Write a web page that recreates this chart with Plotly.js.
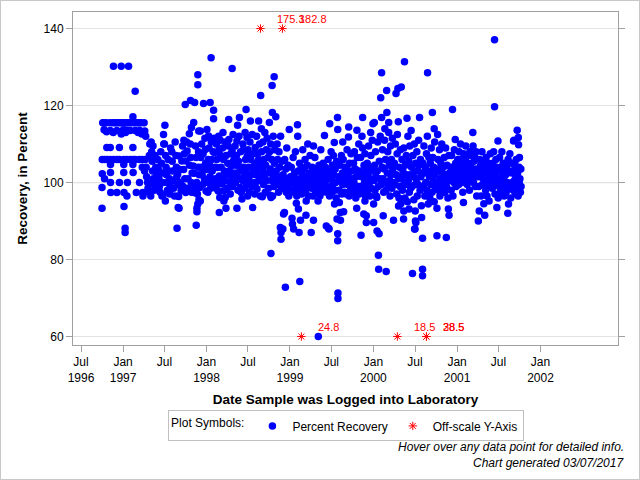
<!DOCTYPE html>
<html><head><meta charset="utf-8">
<script src="https://cdn.plot.ly/plotly-3.0.1.min.js"></script>
<style>html,body{margin:0;padding:0;background:#fff}#chart{width:638px;height:478px;border:1px solid #c8c8c8}</style>
</head><body><div id="chart"></div>
<script>
// ---- data: [month-day, percent recovery] per year ----
const obs1996 = [
["10-01",93.3],["10-01",98.7],["10-02",102.3],["10-02",106],["10-04",115.5],["10-09",115.5],["10-10",113.7],["10-12",106],["10-12",101],["10-20",115.5],["10-21",113.2],["10-22",109.1],["10-23",106],
["11-05",115.5],["11-06",113.5],["11-06",109.1],["11-06",106],["11-07",104.7],["11-07",102.6],["11-07",100],["11-08",97.4],["11-20",130.2],["11-18",115.5],["11-19",113],["11-20",106],["11-27",115.5],
["12-05",115.5],["12-05",113.5],["12-05",106],["12-05",97.4],["12-16",115.5],["12-16",109.1],["12-16",106],["12-16",100],["12-24",130.2],["12-24",115.5],["12-24",112.6]
];
const obs1997 = [
["01-03",115.5],["01-03",113.7],["01-04",106],["01-04",104.7],["01-04",102.6],["01-05",97.4],["01-05",93.8],["01-10",88.1],["01-10",87.0],["01-11",115.5],["01-12",113],["01-17",115.5],["01-17",113.5],["01-18",106],["01-18",96.5],["01-20",100],["01-25",130.2],["01-25",115.5],
["02-01",115.5],["02-01",113.5],["02-02",106],["02-13",117.1],["02-13",115.5],["02-13",109.1],["02-13",104.7],["02-14",102.6],["02-14",106],["02-23",123.7],["02-23",115.5],["02-23",113.5],["02-24",106],["02-28",97.4],
["03-05",115.5],["03-08",113],["03-12",115.5],["03-14",106],["03-14",100],["03-15",113.5],["03-20",115.5],["03-24",112.6],["03-26",106],["03-26",104],["03-28",97.4],["03-29",96.5],
["04-03",115.5],["04-06",113.4],["04-10",112],["04-08",106],["04-12",104],["04-05",103],["04-14",101.5],["04-18",100],["04-20",98.5],["04-24",97.4],["04-28",110],["04-26",107],
["05-02",96.5],["05-04",110.5],["05-06",108],["05-08",105.5],["05-10",103],["05-13",101],["05-15",99.5],["05-18",98],["05-21",107],["05-24",104],["05-27",102],["05-29",100.5],["05-12",109.5],
["06-02",106],["06-04",103.5],["06-07",101],["06-09",99],["06-12",97.5],["06-15",108],["06-18",105],["06-21",102.5],["06-24",100],["06-27",112.5],["06-28",110],["06-20",96.5],["06-24",96.7],
["07-03",114.9],["07-01",110],["07-05",95.2],["07-06",107],["07-08",104],["07-10",102],["07-12",100],["07-14",98],["07-17",106],["07-20",103],["07-23",101],["07-26",99],["07-28",109],["07-24",97],
["08-02",108],["08-04",105.5],["08-06",103],["08-08",100.5],["08-10",98.5],["08-14",96.5],["08-17",110.5],["08-20",107],["08-22",104],["08-24",101.5],["08-27",99.5],["08-28",102.2],["08-29",96.5],["08-25",88.1],["08-30",93.5],
["09-01",96.4],["09-04",106.9],["09-03",93.3],["09-18",109.5],["09-07",103.4],["09-09",100],["09-12",98],["09-15",105.6],["09-23",103.4],["09-21",99],["09-24",111],["09-26",107.5],["09-28",101],["09-30",120.3],["09-29",97.8],
["10-02",97.4],["10-03",105.6],["10-06",110.5],["10-08",108.2],["10-18",112.7],["10-12",101],["10-14",98.5],["10-23",121.3],["10-19",104.5],["10-22",110],["10-24",106.5],["10-26",100],["10-28",97.5],["10-30",102.5],["10-27",114.3],
["11-04",104.3],["11-06",115.6],["11-06",97.4],["11-08",102.4],["11-10",120.8],["11-12",98.7],["11-14",109.5],["11-16",106.5],["11-17",88.9],["11-19",100],["11-20",92.4],["11-20",93.3],["11-22",97],["11-24",94.4],["11-24",128],["11-24",125.4],["11-26",104],["11-27",108],["11-28",113.4],["11-29",95.5],["11-30",102],
["12-02",98.7],["12-05",95.2],["12-05",113.4],["12-07",106.5],["12-09",104],["12-11",110],["12-13",102],["12-15",99.5],["12-17",107.5],["12-19",120.5],["12-21",103.4],["12-23",100.9],["12-25",111.5],["12-27",108.6],["12-28",105],["12-30",97.8]
];
const obs1998 = [
["01-03",113.8],["01-03",103.4],["01-05",100],["01-07",97.5],["01-09",106],["01-10",112.1],["01-12",109],["01-14",104.5],["01-16",101.5],["01-17",120.8],["01-19",98.5],["01-21",132.4],["01-22",110.5],["01-24",106],["01-26",103],["01-28",100],["01-30",108],
["02-01",118.8],["02-01",116.6],["02-03",111.5],["02-05",107.8],["02-07",104],["02-09",101],["02-11",98.5],["02-13",110],["02-15",106],["02-17",103.9],["02-19",99.6],["02-21",97.8],["02-23",112],["02-25",108.6],["02-26",92.2],["02-26",101.7],["02-28",96.1],
["03-02",111],["03-04",107],["03-06",104],["03-08",101],["03-10",99.6],["03-12",109],["03-14",113],["03-16",106],["03-17",97.8],["03-18",95.2],["03-20",103],["03-22",100.5],["03-24",96.1],["03-25",110.5],["03-27",93.3],["03-28",107],["03-30",102],
["04-02",98.5],["04-04",105],["04-06",109.5],["04-08",116.4],["04-09",111.2],["04-11",103],["04-13",100],["04-15",97],["04-17",107.5],["04-19",104.3],["04-21",101.5],["04-23",129.6],["04-23",108.2],["04-25",99],["04-27",112.5],["04-29",105.5],
["05-02",106],["05-04",102.5],["05-06",109.5],["05-08",100],["05-10",104.5],["05-12",107],["05-14",93.3],["05-14",110.8],["05-16",101.5],["05-17",114.9],["05-19",98],["05-21",105.5],["05-23",112],["05-25",116.9],["05-27",103],["05-29",98.7],["05-30",108],
["06-02",97.4],["06-04",103.9],["06-05",95.7],["06-07",100.5],["06-09",110],["06-12",108.6],["06-13",104],["06-15",101.5],["06-17",98.5],["06-19",113],["06-21",106],["06-23",119],["06-24",102.5],["06-26",99.5],["06-27",111.7],["06-28",106.9],["06-30",96.5],
["07-02",108.5],["07-04",104],["07-06",100.5],["07-08",97.5],["07-10",110.5],["07-12",116],["07-14",106],["07-16",102],["07-18",99],["07-20",112.5],["07-22",93.5],["07-24",107.5],["07-26",103],["07-27",104.3],["07-29",100],["07-31",97],
["08-02",109.1],["08-02",99.6],["08-04",105],["08-06",102],["08-08",112],["08-10",98.3],["08-12",107.5],["08-14",103.5],["08-17",116],["08-17",106],["08-19",100.5],["08-21",110],["08-23",104.5],["08-25",96.5],["08-26",122.6],["08-28",101.5],["08-29",114],["08-30",108],
["09-02",96.3],["09-03",103],["09-05",110.5],["09-07",99.5],["09-09",106],["09-11",101.5],["09-13",113],["09-15",97.5],["09-17",104.5],["09-19",108.5],["09-21",100.5],["09-23",111.5],["09-25",102.5],["09-27",106.5],["09-29",98.5],
["10-03",115.6],["10-04",108],["10-06",96.7],["10-07",103.5],["10-09",110],["10-10",96.1],["10-10",81.6],["10-12",100.5],["10-14",106],["10-15",125.2],["10-16",118.2],["10-17",96.5],["10-18",102],["10-20",112],["10-22",99],["10-24",127.5],["10-25",105],["10-27",108.5],["10-29",101],["10-31",117.1],
["11-02",103],["11-04",99.5],["11-06",110],["11-08",106],["11-10",101.5],["11-12",97.5],["11-14",108],["11-16",104],["11-18",100],["11-20",88.3],["11-21",112],["11-23",87],["11-23",85.3],["11-25",98.5],["11-27",105.5],["11-29",101],
["12-01",87.9],["12-02",102],["12-04",91.8],["12-06",98.5],["12-08",92.2],["12-09",106],["12-11",100],["12-12",72.8],["12-14",103.5],["12-16",97.5],["12-18",109],["12-20",101],["12-22",99],["12-24",104.5],["12-27",96.5],["12-29",113.8],["12-30",100.5]
];
const obs1999 = [
["01-03",101.5],["01-05",98],["01-07",104],["01-10",90.7],["01-12",89.2],["01-13",100],["01-15",106.5],["01-17",87.9],["01-19",97.5],["01-21",102.5],["01-23",99],["01-25",108],["01-27",101],["01-29",94.6],["01-31",96.5],
["02-02",100.5],["02-03",115],["02-04",112],["02-06",103],["02-07",93.1],["02-09",98],["02-10",87],["02-12",105],["02-13",74.3],["02-15",101],["02-16",90.2],["02-18",99],["02-20",104],["02-22",97],["02-24",102],["02-26",108.5],
["03-02",99.5],["03-04",103.5],["03-06",100],["03-08",106],["03-10",97.5],["03-12",91.5],["03-14",101.5],["03-16",98.5],["03-18",104.5],["03-20",110],["03-22",100],["03-24",96.5],["03-26",102.5],["03-28",99.5],["03-30",107],["03-13",95.2],
["04-02",101],["04-04",87],["04-06",98.5],["04-08",104],["04-10",100],["04-12",96.5],["04-14",90.2],["04-16",102.5],["04-18",99],["04-20",106.5],["04-22",101],["04-24",97.5],["04-26",103.5],["04-28",99.5],["04-14",109.5],
["05-02",102],["05-05",60],["05-06",98],["05-08",104.5],["05-10",100.5],["05-12",96.5],["05-14",101.5],["05-16",108.5],["05-18",99.5],["05-20",103],["05-22",97.5],["05-24",100.5],["05-26",105],["05-28",98.5],["05-30",102],["05-04",95.2],
["06-01",112.2],["06-03",99.5],["06-05",104],["06-07",100.5],["06-09",88.7],["06-11",97.5],["06-13",102.5],["06-15",98.5],["06-17",106],["06-19",88.1],["06-21",101],["06-23",96.5],["06-24",115.3],["06-26",103],["06-28",99],["06-30",108],["06-21",87.9],
["07-02",101],["07-04",97.5],["07-06",104.5],["07-08",99.5],["07-10",107],["07-12",102],["07-14",110.4],["07-16",98],["07-18",103.5],["07-20",100],["07-22",96],["07-24",105.5],["07-26",90.5],["07-28",116.9],["07-29",113.8],["07-29",86.7],["07-29",84.9],["07-30",71.3],["07-30",69.9],["07-15",94.4],
["08-02",101.5],["08-04",98],["08-05",94.8],["08-07",104.5],["08-09",92.2],["08-10",90.2],["08-12",100.5],["08-14",107],["08-16",97],["08-18",102.5],["08-20",99.5],["08-22",106],["08-24",92.4],["08-26",101],["08-28",97.5],["08-30",104],["08-20",110.5],
["09-02",100],["09-04",97],["09-06",103.5],["09-08",108.5],["09-10",99.5],["09-12",102],["09-14",111.8],["09-15",114.4],["09-17",96.5],["09-19",105],["09-21",100.5],["09-23",98],["09-25",107.5],["09-27",103],["09-29",99],
["10-02",101],["10-04",97.5],["10-06",105],["10-08",100],["10-10",108],["10-12",98],["10-14",103.5],["10-16",96],["10-18",101.5],["10-20",93.3],["10-21",113.6],["10-23",106.5],["10-25",99],["10-27",102.5],["10-29",110],["10-31",97],
["11-02",103],["11-04",99],["11-06",106.5],["11-08",86.3],["11-10",101.5],["11-12",97.5],["11-14",109],["11-15",116.9],["11-17",102],["11-19",98.5],["11-21",104.5],["11-23",100],["11-25",107.5],["11-27",96.5],["11-29",103],["11-20",91.8],["11-25",95.2],["11-12",112],
["12-01",91.4],["12-01",89.6],["12-03",101],["12-05",105],["12-07",98],["12-09",102.5],["12-11",109.5],["12-13",99.5],["12-15",104],["12-17",96.5],["12-19",101],["12-21",107],["12-23",98.5],["12-25",103],["12-27",111],["12-30",115.3],["12-20",113]
];
const obs2000 = [
["01-02",89.6],["01-04",100.5],["01-06",104.5],["01-08",98],["01-10",108],["01-12",101.5],["01-14",96.5],["01-17",87.4],["01-18",103],["01-20",110.5],["01-22",99],["01-23",81.1],["01-24",77.5],["01-26",86.7],["01-27",105.5],["01-29",101],["01-31",112],["01-02",94.4],["01-16",96.1],["01-05",115.6],
["02-02",122],["02-04",99.5],["02-06",116.9],["02-06",128.5],["02-08",104],["02-10",108.5],["02-12",101],["02-13",91.4],["02-15",97.5],["02-17",103.5],["02-19",111],["02-21",100],["02-23",106],["02-25",98],["02-26",76.9],["02-28",123.9],["02-29",118.2],["02-20",114],
["03-02",102.5],["03-04",108],["03-06",99],["03-08",113],["03-10",104.5],["03-12",100.5],["03-14",96.5],["03-16",109.5],["03-18",102],["03-20",106],["03-22",98.5],["03-24",111.5],["03-26",103.5],["03-29",90.2],["03-30",100],["03-08",115.6],
["04-02",105],["04-04",99.5],["04-06",110],["04-09",123.1],["04-10",102],["04-12",97],["04-14",107.5],["04-17",124.4],["04-19",115.8],["04-20",101],["04-22",96],["04-24",104],["04-26",99],["04-28",108.5],["04-30",94.5],["04-20",93.9],["04-15",112.5],
["05-02",124.8],["05-03",101.5],["05-05",106],["05-07",98],["05-09",103],["05-12",90.5],["05-13",109],["05-15",100],["05-16",131.4],["05-18",96],["05-20",104.5],["05-22",99.5],["05-24",107],["05-26",102],["05-27",116.7],["05-29",95],["05-31",112],["05-13",92.6],
["06-02",100.5],["06-04",105.5],["06-06",97.5],["06-08",109.5],["06-10",102],["06-12",98.5],["06-14",113.5],["06-16",104],["06-18",99],["06-20",76.4],["06-22",107],["06-24",101.5],["06-26",95.5],["06-28",110],["06-29",87.9],["06-30",103],["06-05",93.1],
["07-02",99.5],["07-04",105],["07-05",89.6],["07-07",101],["07-09",108],["07-11",96.5],["07-13",103],["07-15",99.5],["07-17",111],["07-19",104.5],["07-21",116.9],["07-23",98],["07-25",106],["07-27",101.5],["07-29",94],["07-31",102.5],["07-01",87.9],["07-02",92.6],["07-03",90],["07-30",90.9],
["08-03",77.5],["08-03",75.8],["08-03",85.5],["08-05",105],["08-07",99],["08-09",109.5],["08-11",102.5],["08-13",96.5],["08-15",104],["08-17",100],["08-20",107.5],["08-22",98],["08-24",112],["08-25",128.5],["08-27",103],["08-29",97],["08-31",106.5],["08-28",94.4],
["09-02",101.5],["09-04",96],["09-06",105],["09-08",99.5],["09-10",109],["09-12",103],["09-14",97.5],["09-15",118.2],["09-17",106.5],["09-19",100.5],["09-21",104],["09-23",95],["09-25",110.5],["09-27",102],["09-29",98.5],["09-23",114],
["10-02",103],["10-05",86.2],["10-05",93.3],["10-07",100],["10-08",112.5],["10-10",106],["10-12",98],["10-14",103.5],["10-16",108.5],["10-18",96.5],["10-20",101],["10-22",105],["10-24",99],["10-26",110],["10-28",102.5],["10-30",97.5],
["11-02",104],["11-04",100],["11-06",106.5],["11-08",97.5],["11-10",102],["11-12",109],["11-15",85.7],["11-16",99],["11-18",104.5],["11-20",101],["11-22",96],["11-24",93.1],["11-26",107],["11-27",91.5],["11-29",102.5],
["12-02",100.5],["12-04",104],["12-06",98],["12-08",107],["12-10",102],["12-12",119],["12-14",96.5],["12-16",103.5],["12-18",100],["12-20",108.5],["12-22",101.5],["12-24",111.2],["12-26",105],["12-28",99],["12-30",103]
];
const obs2001 = [
["01-02",101],["01-04",106],["01-06",103],["01-08",99.5],["01-10",108],["01-12",104],["01-14",101.5],["01-16",110],["01-18",102.5],["01-20",106],["01-22",100],["01-24",104.5],["01-26",97.5],["01-29",94.8],["01-30",107.5],
["02-02",103],["02-04",100.5],["02-06",106],["02-08",109.5],["02-10",102],["02-12",104.5],["02-14",99.5],["02-16",107],["02-18",101],["02-20",105],["02-22",103],["02-24",98],["02-26",108],["02-28",102.5],
["03-02",104],["03-04",101],["03-06",107],["03-08",103],["03-11",113],["03-12",109.5],["03-14",100],["03-16",105.5],["03-18",102],["03-20",106.5],["03-22",99],["03-24",103.5],["03-26",108],["03-28",96.5],["03-30",101.5],
["04-02",103],["04-04",90],["04-06",99],["04-08",92.6],["04-10",106],["04-12",101.5],["04-14",104.5],["04-16",96.5],["04-18",102],["04-20",108],["04-22",99.5],["04-24",105],["04-26",101],["04-28",94.5],["04-30",103.5],
["05-02",91.5],["05-03",100.5],["05-04",104],["05-06",98],["05-08",106.5],["05-10",101.5],["05-12",96.5],["05-14",103],["05-16",99.5],["05-18",105],["05-20",101],["05-21",95.2],["05-24",102.5],["05-26",107.5],["05-28",99],["05-30",103.5],
["06-02",102],["06-04",98.5],["06-06",105],["06-08",100.5],["06-10",108],["06-12",103],["06-14",137.1],["06-14",119.7],["06-16",97],["06-18",101.5],["06-20",106],["06-22",99.5],["06-24",93.5],["06-26",100.5],["06-29",110.8],["06-30",96],["06-24",104],
["07-02",103],["07-04",99],["07-06",106.5],["07-08",101],["07-10",97.5],["07-12",104],["07-14",100.5],["07-16",108],["07-18",102.5],["07-20",98],["07-22",105],["07-24",101],["07-26",96.5],["07-28",103.5],["07-30",99.5],
["08-02",102],["08-04",97.5],["08-06",104.5],["08-08",100],["08-11",92],["08-12",106],["08-14",94.4],["08-16",98.5],["08-18",103],["08-20",107.5],["08-22",99.5],["08-24",96],["08-26",102.5],["08-28",105],["08-30",100],
["09-02",103],["09-04",98],["09-05",110.8],["09-07",111],["09-09",100.5],["09-11",104.5],["09-13",97],["09-15",101.5],["09-17",106],["09-19",99],["09-21",113.6],["09-23",102.5],["09-25",96.5],["09-26",111.7],["09-27",109.8],["09-29",104],["09-30",100],
["10-01",106.5],["10-03",101],["10-05",97.5],["10-07",103.5],["10-08",99]
];
// off-scale results (actual values), drawn at the axis limit
const offDates  = ["1998-08-25","1998-11-29","1999-02-20","2000-04-15","2000-08-20","2000-08-20"];
const offValues = [175.3, 182.8, 24.8, 18.5, 28.5, 38.5];
const yTicks = [60, 80, 100, 120, 140];
const xTickDates = ["1996-07-01","1997-01-01","1997-07-01","1998-01-01","1998-07-01","1999-01-01",
                    "1999-07-01","2000-01-01","2000-07-01","2001-01-01","2001-07-01","2002-01-01"];
const xTickText = ["Jul<br>1996","Jan<br>1997","Jul","Jan<br>1998","Jul","Jan<br>1999",
                   "Jul","Jan<br>2000","Jul","Jan<br>2001","Jul","Jan<br>2002"];
const yearSets = [[1996,obs1996],[1997,obs1997],[1998,obs1998],[1999,obs1999],[2000,obs2000],[2001,obs2001]];

const xs = [], ys = [];
yearSets.forEach(([yr, arr]) => arr.forEach(p => { xs.push(yr + "-" + p[0]); ys.push(p[1]); }));
const yLow = yTicks[0], yHigh = yTicks[yTicks.length - 1];
const offPlot = offValues.map(v => v > yHigh ? yHigh : yLow);

const FONT = 'Arial, "Liberation Sans", sans-serif';

const traces = [
  { type: "scatter", mode: "markers", name: "Percent Recovery", x: xs, y: ys,
    marker: { color: "#0000ff", size: 7.5, line: { width: 0 } } },
  { type: "scatter", mode: "markers", name: "Off-scale Y-Axis", x: offDates, y: offPlot,
    marker: { symbol: "asterisk-open", size: 7, color: "#ff0000", line: { color: "#ff0000", width: 1 } },
    cliponaxis: false }
];

const offLabels = offDates.map((d, i) => ({
  x: d, y: offPlot[i], xref: "x", yref: "y", text: String(offValues[i]),
  showarrow: false, xanchor: "left", yanchor: "middle", xshift: 15, yshift: 10,
  font: { color: "#ff0000", size: 11 }
}));

const layout = {
  width: 638, height: 478,
  margin: { l: 72, r: 21, t: 11, b: 134 },
  paper_bgcolor: "#ffffff", plot_bgcolor: "#ffffff",
  font: { family: FONT, size: 12, color: "#000000" },
  showlegend: true,
  xaxis: {
    type: "date", range: ["1996-05-27", "2002-12-06"],
    tickvals: xTickDates, ticktext: xTickText,
    ticks: "outside", ticklen: 6, tickcolor: "#a0a0a0",
    showline: true, linecolor: "#a0a0a0", mirror: true,
    showgrid: false, zeroline: false,
    tickfont: { size: 12, color: "#000" },
    title: { text: "Date Sample was Logged into Laboratory", font: { size: 13.5, weight: "bold" }, standoff: 10 }
  },
  yaxis: {
    range: [57.8, 144.3], tickvals: yTicks,
    ticks: "outside", ticklen: 6, tickcolor: "#a0a0a0",
    showline: true, linecolor: "#a0a0a0", mirror: "ticks",
    showgrid: true, gridcolor: "#e3e3e3", zeroline: false,
    tickfont: { size: 12, color: "#000" },
    title: { text: "Recovery, in Percent", font: { size: 13.5, weight: "bold" }, standoff: 12 }
  },
  shapes: [
    { type: "line", xref: "paper", x0: 0, x1: 1, yref: "y", y0: 100, y1: 100,
      line: { color: "#000000", width: 1 }, layer: "below" }
  ],
  legend: {
    orientation: "h", x: 0.501, xanchor: "center", y: -0.243, yanchor: "middle",
    title: { text: "Plot Symbols:", side: "left", font: { size: 12 } },
    bordercolor: "#c0c0c0", borderwidth: 1, bgcolor: "#ffffff",
    font: { size: 12 }, itemwidth: 30
  },
  annotations: offLabels.concat([
    { xref: "paper", yref: "paper", x: 1.0147, y: -0.306, xanchor: "right", yanchor: "middle",
      text: "Hover over any data point for detailed info.", showarrow: false,
      font: { size: 12, style: "italic" } },
    { xref: "paper", yref: "paper", x: 1.0147, y: -0.354, xanchor: "right", yanchor: "middle",
      text: "Chart generated 03/07/2017", showarrow: false,
      font: { size: 12, style: "italic" } }
  ])
};

Plotly.newPlot("chart", traces, layout, { displayModeBar: false });
</script>
</body></html>
